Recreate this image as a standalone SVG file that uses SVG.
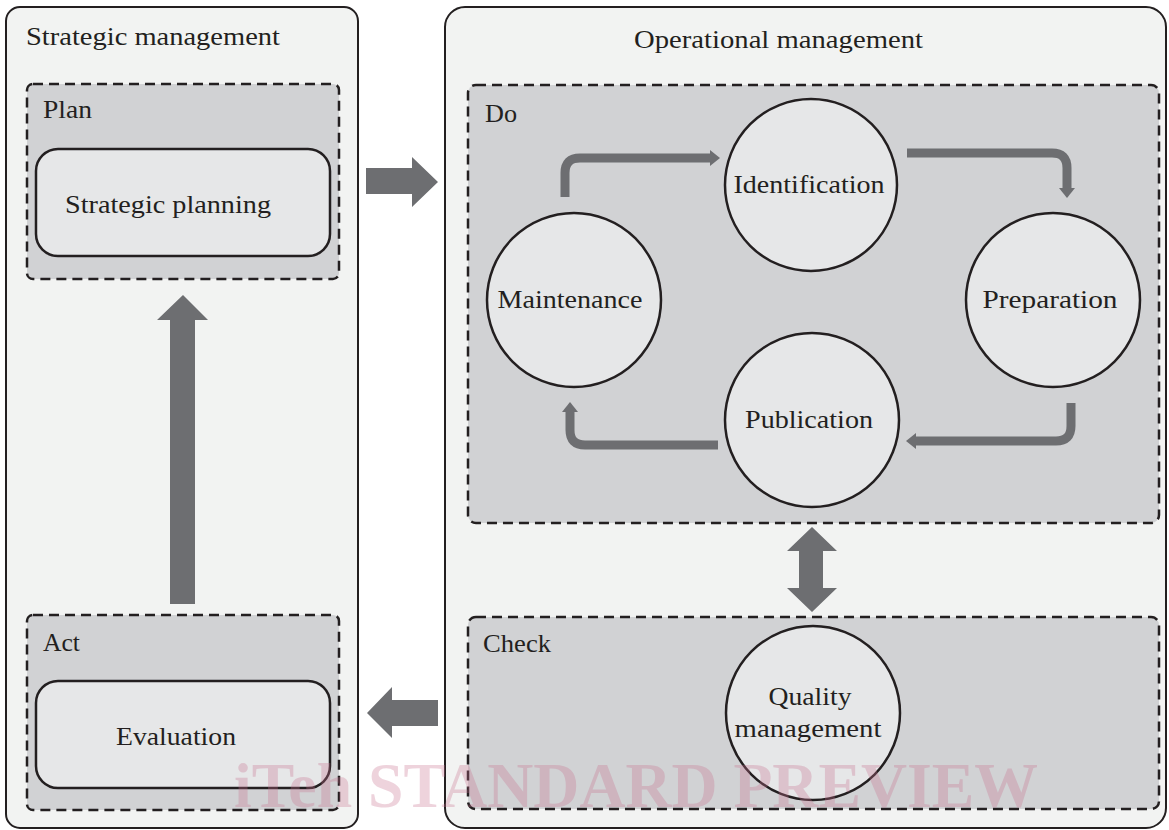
<svg xmlns="http://www.w3.org/2000/svg" width="1169" height="830" viewBox="0 0 1169 830">
  <style>
    .panel { fill: #f2f3f2; stroke: #231f20; stroke-width: 2; }
    .phase { fill: #d1d2d4; stroke: #231f20; stroke-width: 2.5; stroke-dasharray: 10 6; }
    .box { fill: #e6e7e8; stroke: #231f20; stroke-width: 2.5; }
    .node { fill: #e6e7e8; stroke: #231f20; stroke-width: 2.5; }
    .lbl { font-family: "Liberation Serif", "DejaVu Serif", serif; font-size: 26px; fill: #231f20; }
    .mid { text-anchor: middle; }
    .block { fill: #6d6e71; }
    .flow { fill: none; stroke: #6d6e71; stroke-width: 9; }
    .wm { font-family: "Liberation Serif", serif; font-weight: bold; font-size: 63px; fill: #c8708f; opacity: 0.3; }
  </style>
  <defs>
    <marker id="head" viewBox="0 0 10 16" refX="0" refY="8" markerWidth="10" markerHeight="16" markerUnits="userSpaceOnUse" orient="auto">
      <path d="M0,0 L10,8 L0,16 z" fill="#6d6e71"/>
    </marker>
  </defs>

  <!-- Strategic management panel -->
  <g id="strategic-management">
    <rect class="panel" x="6" y="7" width="352" height="821" rx="14"/>
    <text class="lbl" x="26" y="45" textLength="254" lengthAdjust="spacingAndGlyphs">Strategic management</text>
  </g>
  <g id="plan">
    <rect class="phase" x="27" y="84" width="312" height="195" rx="6"/>
    <text class="lbl" x="43" y="118" textLength="49" lengthAdjust="spacingAndGlyphs">Plan</text>
  </g>
  <g id="strategic-planning">
    <rect class="box" x="36" y="149" width="294" height="107" rx="22"/>
    <text class="lbl" x="65" y="213" textLength="206" lengthAdjust="spacingAndGlyphs">Strategic planning</text>
  </g>
  <g id="act">
    <rect class="phase" x="27" y="615" width="312" height="195" rx="6"/>
    <text class="lbl" x="43" y="651" textLength="37" lengthAdjust="spacingAndGlyphs">Act</text>
  </g>
  <g id="evaluation">
    <rect class="box" x="36" y="681" width="294" height="107" rx="22"/>
    <text class="lbl mid" x="176" y="745" textLength="120" lengthAdjust="spacingAndGlyphs">Evaluation</text>
  </g>

  <!-- Operational management panel -->
  <g id="operational-management">
    <rect class="panel" x="445" y="7" width="721" height="821" rx="20"/>
    <text class="lbl" x="634" y="48" textLength="289" lengthAdjust="spacingAndGlyphs">Operational management</text>
  </g>
  <g id="do">
    <rect class="phase" x="468" y="85" width="691" height="438" rx="8"/>
    <text class="lbl" x="485" y="122" textLength="32" lengthAdjust="spacingAndGlyphs">Do</text>
  </g>
  <g id="identification">
    <circle class="node" cx="811" cy="185" r="86"/>
    <text class="lbl mid" x="809" y="193" textLength="151" lengthAdjust="spacingAndGlyphs">Identification</text>
  </g>
  <g id="maintenance">
    <circle class="node" cx="574" cy="300" r="87"/>
    <text class="lbl mid" x="570" y="308" textLength="145" lengthAdjust="spacingAndGlyphs">Maintenance</text>
  </g>
  <g id="preparation">
    <circle class="node" cx="1053" cy="300" r="87"/>
    <text class="lbl mid" x="1050" y="308" textLength="135" lengthAdjust="spacingAndGlyphs">Preparation</text>
  </g>
  <g id="publication">
    <circle class="node" cx="812" cy="420" r="87"/>
    <text class="lbl mid" x="809" y="428" textLength="128" lengthAdjust="spacingAndGlyphs">Publication</text>
  </g>
  <g id="check">
    <rect class="phase" x="468" y="617" width="691" height="192" rx="8"/>
    <text class="lbl" x="483" y="652" textLength="68" lengthAdjust="spacingAndGlyphs">Check</text>
  </g>
  <g id="quality-management">
    <circle class="node" cx="813" cy="713" r="87"/>
    <text class="lbl mid" x="810" y="705" textLength="83" lengthAdjust="spacingAndGlyphs">Quality</text>
    <text class="lbl mid" x="808" y="737" textLength="147" lengthAdjust="spacingAndGlyphs">management</text>
  </g>

  <!-- Connectors -->
  <g id="connectors">
    <!-- plan to do -->
    <polygon class="block" points="366,168 412,168 412,157 438,182 412,207 412,194 366,194"/>
    <!-- check to act -->
    <polygon class="block" points="438,700 392,700 392,687 367,713 392,738 392,726 438,726"/>
    <!-- act to plan -->
    <polygon class="block" points="170,604 170,320 157,320 183,295 208,320 195,320 195,604"/>
    <!-- do and check, both ways -->
    <polygon class="block" points="799,551 787,551 812,527 837,551 823,551 823,588 837,588 812,612 787,588 799,588"/>
    <!-- cycle inside do -->
    <path class="flow" d="M565 197 V173 Q565 158 580 158 H710" marker-end="url(#head)"/>
    <path class="flow" d="M907 153 H1052 Q1067 153 1067 168 V188" marker-end="url(#head)"/>
    <path class="flow" d="M1071 403 V426 Q1071 441 1056 441 H916" marker-end="url(#head)"/>
    <path class="flow" d="M718 445 H585 Q570 445 570 430 V412" marker-end="url(#head)"/>
  </g>

  <!-- overprinted mark -->
  <g id="overprint">
    <text class="wm" x="234" y="807" textLength="804" lengthAdjust="spacingAndGlyphs">iTeh STANDARD PREVIEW</text>
  </g>
</svg>
